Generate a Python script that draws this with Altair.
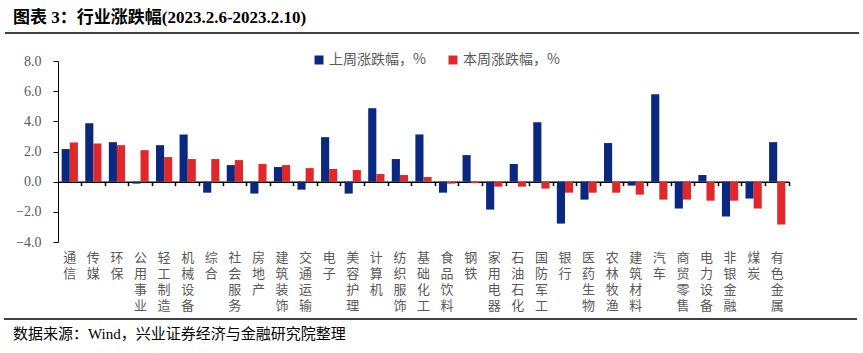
import altair as alt
import pandas as pd

categories = ["通信", "传媒", "环保", "公用事业", "轻工制造", "机械设备", "综合", "社会服务",
              "房地产", "建筑装饰", "交通运输", "电子", "美容护理", "计算机", "纺织服饰", "基础化工",
              "食品饮料", "钢铁", "家用电器", "石油石化", "国防军工", "银行", "医药生物", "农林牧渔",
              "建筑材料", "汽车", "商贸零售", "电力设备", "非银金融", "煤炭", "有色金属"]
last_week = [2.16, 3.88, 2.62, -0.13, 2.42, 3.13, -0.73, 1.10, -0.79, 0.97, -0.53, 2.95, -0.79,
             4.87, 1.50, 3.13, -0.73, 1.76, -1.85, 1.17, 3.94, -2.78, -1.19, 2.56, -0.26, 5.79,
             -1.78, 0.44, -2.31, -1.12, 2.62]
this_week = [2.60, 2.53, 2.42, 2.09, 1.63, 1.50, 1.50, 1.43, 1.17, 1.10, 0.90, 0.84, 0.77,
             0.51, 0.44, 0.31, -0.13, -0.10, -0.33, -0.33, -0.46, -0.73, -0.73, -0.73, -0.86,
             -1.19, -1.19, -1.26, -1.26, -1.78, -2.84]
series = ["上周涨跌幅，%", "本周涨跌幅，%"]
y_ticks = [-4, -2, 0, 2, 4, 6, 8]
title_text = "图表 3：行业涨跌幅(2023.2.6-2023.2.10)"
source_text = "数据来源：Wind，兴业证券经济与金融研究院整理"

rows = []
for c, a, b in zip(categories, last_week, this_week):
    rows.append({"cat": c, "series": series[0], "value": a})
    rows.append({"cat": c, "series": series[1], "value": b})
df = pd.DataFrame(rows)

W, H = 731, 181
BLUE, RED = "#0a2880", "#e0282a"
GRAY = "#595959"
CJK = "Noto Sans CJK SC"
SERIF = "Liberation Serif, Noto Sans CJK SC"

base = alt.Chart(df)
yscale = alt.Scale(domain=[-4, 8], nice=False, zero=False)


def y_axis():
    return alt.Axis(title=None, values=y_ticks, format=".1f", grid=False,
                    domainColor="black", tickColor="black", tickSize=5,
                    labelPadding=12, labelFont="Liberation Serif",
                    labelFontSize=14, labelColor=GRAY, labelOverlap=False)


bars = base.mark_bar().encode(
    x=alt.X("cat:N", sort=categories,
            scale=alt.Scale(paddingInner=0, paddingOuter=0),
            axis=alt.Axis(title=None, domain=False, ticks=False, labelAngle=0,
                          labelExpr="split(datum.label, '')", labelPadding=9,
                          labelFont=CJK, labelFontSize=13, labelColor=GRAY,
                          labelLineHeight=16, labelBaseline="top", orient="bottom",
                          labelOverlap=False)),
    xOffset=alt.XOffset("series:N", sort=series,
                        scale=alt.Scale(paddingInner=0, paddingOuter=0.45)),
    y=alt.Y("value:Q", scale=yscale, axis=y_axis()),
    color=alt.Color("series:N", sort=series,
                    scale=alt.Scale(domain=series, range=[BLUE, RED]),
                    legend=alt.Legend(title=None, orient="none", legendX=254, legendY=-8,
                                      direction="horizontal", symbolType="square",
                                      symbolSize=81, symbolStrokeWidth=0, labelFont=CJK,
                                      labelFontSize=14, labelColor=GRAY, columnPadding=20,
                                      labelOffset=3, padding=0, labelLimit=300)),
)

zero_axis = base.mark_point(opacity=0).encode(
    x=alt.X("cat:N", sort=categories,
            axis=alt.Axis(title=None, labels=False, domain=True, domainColor="black",
                          domainWidth=1.5, ticks=True, tickColor="black", tickSize=4,
                          tickWidth=1.5, bandPosition=1, offset=-H * 4 / 12, orient="bottom")),
    y=alt.Y("value:Q", scale=yscale, axis=y_axis()),
)

title_mark = alt.Chart(pd.DataFrame({"t": [title_text]})).mark_text(
    align="left", baseline="middle", font=SERIF, fontSize=17, fontWeight="bold", color="black"
).encode(text="t:N", x=alt.value(-45), y=alt.value(-43))

source_mark = alt.Chart(pd.DataFrame({"t": [source_text]})).mark_text(
    align="left", baseline="middle", font=SERIF, fontSize=15, color="black"
).encode(text="t:N", x=alt.value(-45), y=alt.value(273))

top_line = alt.Chart(pd.DataFrame({"k": ["top"]})).mark_rule(color="black", strokeWidth=1.5).encode(
    x=alt.value(-53), x2=alt.value(801), y=alt.value(-28))
bottom_line = alt.Chart(pd.DataFrame({"k": ["bottom"]})).mark_rule(color="black", strokeWidth=1.5).encode(
    x=alt.value(-54), x2=alt.value(799), y=alt.value(258))

chart = alt.layer(bars, zero_axis, title_mark, source_mark, top_line, bottom_line).resolve_axis(
    x="independent"
).properties(
    width=W, height=H,
    padding={"left": 58, "top": 61, "right": 74, "bottom": 111},
    autosize=alt.AutoSizeParams(type="none"),
).configure_view(stroke=None)

chart.save("out.html", embed_options={"renderer": "svg", "actions": False})
